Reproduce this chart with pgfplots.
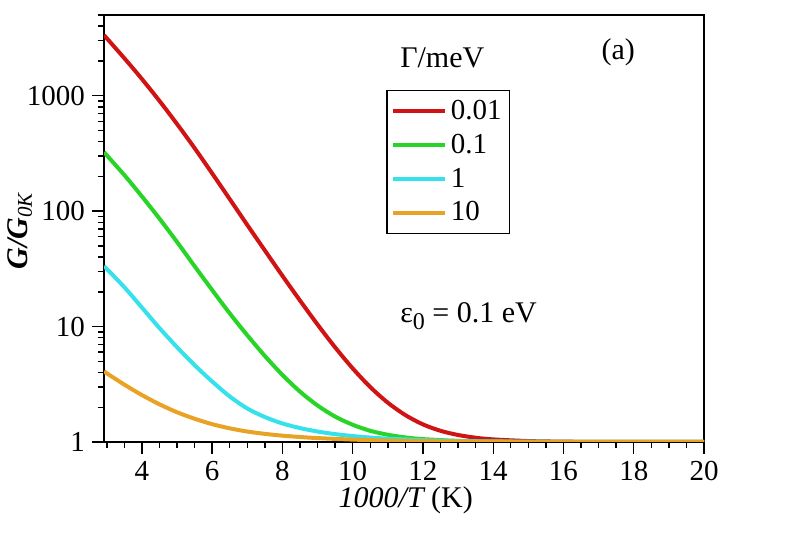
\documentclass[border=0pt]{standalone}
\usepackage{fontspec}
\setmainfont{Liberation Serif}
\usepackage{pgfplots}
\pgfplotsset{compat=1.18}
\definecolor{cred}{RGB}{208,20,20}
\definecolor{cgreen}{RGB}{40,212,40}
\definecolor{ccyan}{RGB}{55,225,235}
\definecolor{corange}{RGB}{232,162,36}
\begin{document}
\begin{tikzpicture}
\useasboundingbox (0,0) rectangle (396pt,267.5pt);
\begin{axis}[
  at={(52pt,46.5pt)}, anchor=south west,
  scale only axis, width=300pt, height=213.5pt,
  xmin=2.92, xmax=20, ymode=log, ymin=1, ymax=5000,
  xtick={4,6,8,10,12,14,16,18,20},
  xticklabels={4,6,8,10,12,14,16,18,20},
  minor xtick={3,3.5,...,20},
  ytick={1,10,100,1000}, yticklabels={1,10,100,1000},
  minor ytick={2,3,4,5,6,7,8,9,20,30,40,50,60,70,80,90,200,300,400,500,600,700,800,900,2000,3000,4000,5000},
  tick align=outside, major tick length=6pt, minor tick length=3pt,
  xtick pos=bottom, ytick pos=left,
  axis line style={line width=1pt},
  every tick/.style={black, line width=0.7pt},
  xticklabel style={font=\fontsize{14.5}{17}\selectfont},
  yticklabel style={font=\fontsize{14.5}{17}\selectfont},
  /pgf/number format/assume math mode=true,
  xlabel={{\itshape 1000/T} (K)},
  ylabel={{\bfseries\itshape G/G}\textsubscript{\itshape 0K}},
  every axis x label/.style={at={(axis description cs:0.503,-0.136)}, anchor=center,
    font=\fontsize{15}{17}\selectfont},
  every axis y label/.style={at={(axis description cs:-0.14,0.494)}, anchor=center, rotate=90,
    font=\fontsize{15}{17}\selectfont},
  legend style={at={(0.47,0.825)}, anchor=north west, draw=black, line width=0.8pt,
    font=\fontsize{14.5}{16}\selectfont, row sep=1.8pt, inner xsep=2pt, inner ysep=2.8pt},
  legend cell align=left,
  legend image code/.code={\draw[#1] (0pt,0pt) -- (26pt,0pt);},
  clip=true,
]
\addplot[cred, line width=2pt, smooth] coordinates {
(2.92,3345) (3.5,2109) (4,1394) (4.5,900) (5,568) (5.5,351) (6,212) (6.5,127)
(7,75.8) (7.5,45.6) (8,27.5) (8.5,16.8) (9,10.4) (9.5,6.6) (10,4.34) (10.5,2.99)
(11,2.19) (11.5,1.71) (12,1.42) (12.5,1.25) (13,1.15) (13.5,1.089) (14,1.053)
(15,1.019) (16,1.0067) (17,1.0023) (18,1.0008) (20,1.0001)};
\addlegendentry{0.01}
\addplot[cgreen, line width=2pt, smooth] coordinates {
(2.92,324) (3.5,205) (4,134) (4.5,86) (5,54) (5.5,33.3) (6,20.7) (6.5,13.0)
(7,8.4) (7.5,5.56) (8,3.81) (8.5,2.73) (9,2.07) (9.5,1.66) (10,1.41) (10.5,1.25)
(11,1.155) (11.5,1.095) (12,1.059) (13,1.022) (14,1.0085) (15,1.0033) (17,1.0005)
(20,1.0)};
\addlegendentry{0.1}
\addplot[ccyan, line width=2pt, smooth] coordinates {
(2.92,33.4) (3.5,21.9) (4,14.6) (4.5,9.7) (5,6.62) (5.5,4.63) (6,3.34) (6.5,2.48)
(7,1.95) (7.5,1.645) (8,1.447) (8.5,1.32) (9,1.232) (9.5,1.17) (10,1.126)
(10.5,1.093) (11,1.069) (12,1.038) (13,1.021) (14,1.0115) (16,1.0035) (18,1.001)
(20,1.0)};
\addlegendentry{1}
\addplot[corange, line width=2pt, smooth] coordinates {
(2.92,4.08) (3.5,3.14) (4,2.55) (4.5,2.12) (5,1.81) (5.5,1.59) (6,1.427)
(6.5,1.313) (7,1.232) (7.5,1.176) (8,1.135) (8.5,1.105) (9,1.081) (10,1.049)
(11,1.0295) (12,1.018) (13,1.011) (14,1.0065) (16,1.0023) (20,1.0)};
\addlegendentry{10}
\node[anchor=west, font=\fontsize{15}{16}\selectfont] at (rel axis cs:0.482,0.899) {Γ/meV};
\node[anchor=center, font=\fontsize{15}{16}\selectfont] at (rel axis cs:0.857,0.913) {(a)};
\node[anchor=base west, font=\fontsize{15}{16}\selectfont] at (rel axis cs:0.482,0.281)
  {ε\raisebox{-0.55ex}{\fontsize{12}{12}\selectfont 0} = 0.1 eV};
\end{axis}
\end{tikzpicture}
\end{document}
